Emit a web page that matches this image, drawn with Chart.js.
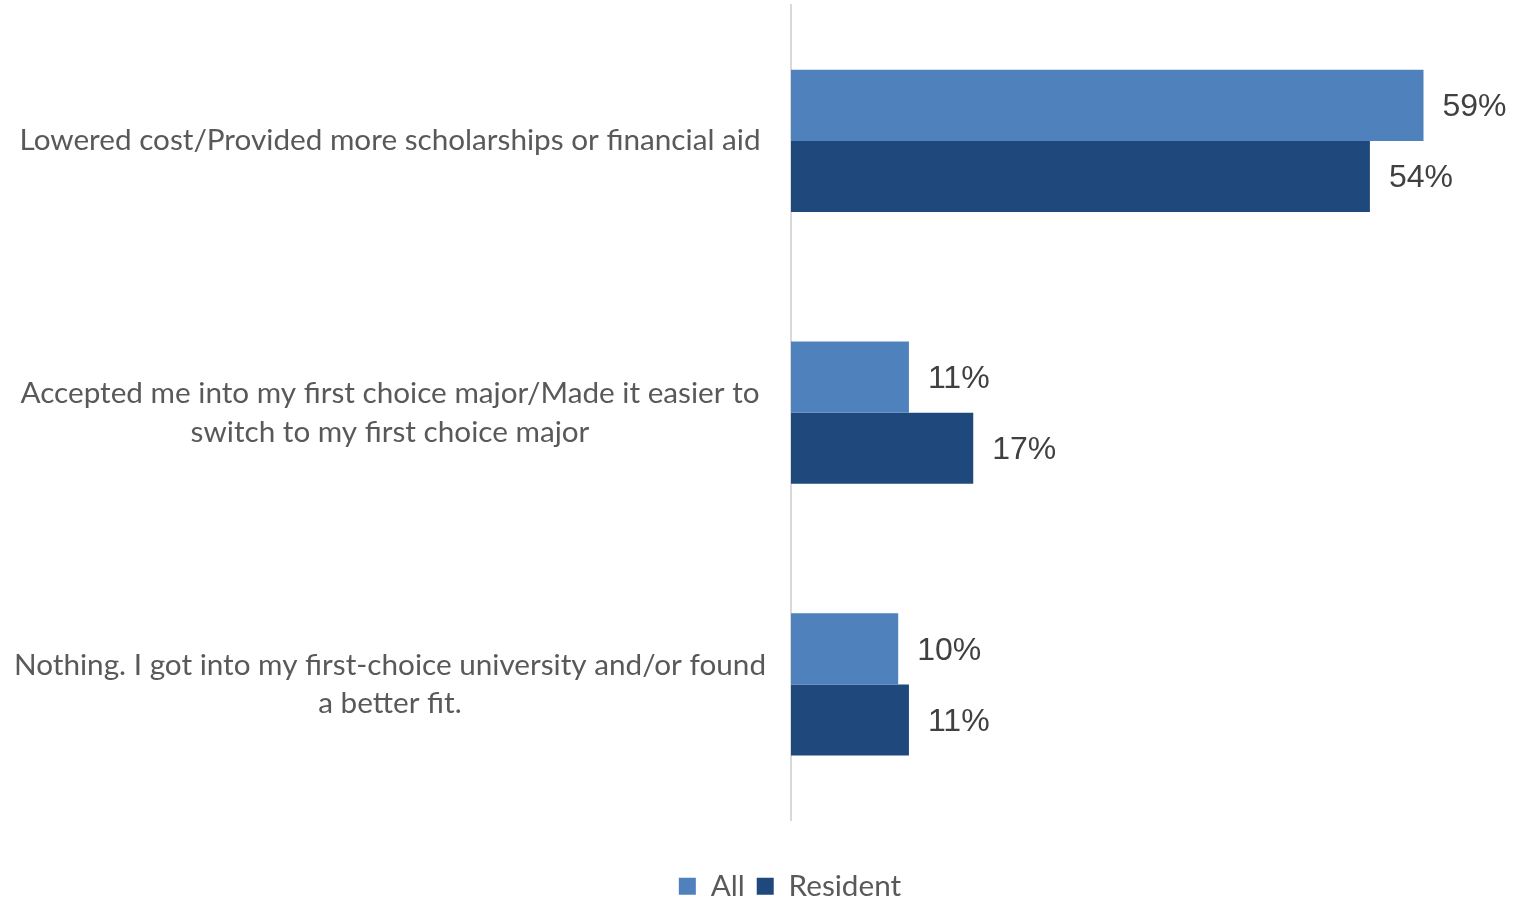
<!DOCTYPE html>
<html>
<head>
<meta charset="utf-8">
<script src="https://cdn.jsdelivr.net/npm/chart.js@4/dist/chart.umd.min.js"></script>
<style>
  html, body { margin: 0; padding: 0; background: #fff; }
  #wrap { width: 1520px; height: 900px; }
</style>
</head>
<body>
<div id="wrap"><canvas id="chart"></canvas></div>
<script>
// categories, one array per wrapped label
const categories = [
  ['Lowered cost/Provided more scholarships or financial aid'],
  ['Accepted me into my first choice major/Made it easier to', 'switch to my first choice major'],
  ['Nothing. I got into my first-choice university and/or found', 'a better fit.']
];
const allValues = [0.59, 0.11, 0.10];
const residentValues = [0.54, 0.17, 0.11];
const seriesNames = ['All', 'Resident'];

const labelFont = 'Lato, "Open Sans", sans-serif';

// draw the % values just right of each bar
const valueLabels = {
  id: 'valueLabels',
  afterDatasetsDraw(chart) {
    const ctx = chart.ctx;
    ctx.save();
    ctx.font = '32px "Liberation Sans", Arial, sans-serif';
    ctx.fillStyle = '#404040';
    ctx.textAlign = 'left';
    ctx.textBaseline = 'middle';
    chart.data.datasets.forEach((ds, i) => {
      chart.getDatasetMeta(i).data.forEach((bar, j) => {
        ctx.fillText(Math.round(ds.data[j] * 100) + '%', bar.x + 19, bar.y + 2);
      });
    });
    ctx.restore();
  }
};

new Chart(document.getElementById('chart'), {
  type: 'bar',
  data: {
    labels: categories,
    datasets: [
      { label: seriesNames[0], data: allValues, backgroundColor: '#4f81bd' },
      { label: seriesNames[1], data: residentValues, backgroundColor: '#1f497d' }
    ]
  },
  options: {
    indexAxis: 'y',
    responsive: true,
    maintainAspectRatio: false,
    animation: false,
    // negative right padding so the legend centres under x≈790 like the original
    layout: { padding: { top: 5, right: -60, left: 0, bottom: -11 } },
    datasets: {
      bar: { barPercentage: 1, categoryPercentage: 0.523 }
    },
    scales: {
      x: {
        min: 0,
        max: 0.68,
        grid: { display: false },
        border: { display: false },
        ticks: { display: false },
        // empty strip between the plot and the legend
        afterFit(scale) { scale.height = 39; }
      },
      y: {
        grid: { display: false },
        border: { display: true, color: '#d9d9d9', width: 2 },
        ticks: {
          crossAlign: 'center',
          padding: 17,
          color: '#595959',
          font: { family: labelFont, size: 29.7, lineHeight: 1.31 }
        },
        afterFit(scale) {
          scale.width = 791;
          scale.paddingTop = 0;
          scale.paddingBottom = 0;
        }
      }
    },
    plugins: {
      tooltip: { enabled: false },
      legend: {
        position: 'bottom',
        labels: {
          color: '#595959',
          font: { family: labelFont, size: 29.7 },
          boxWidth: 17,
          boxHeight: 17,
          padding: 12
        }
      }
    }
  },
  plugins: [valueLabels]
});
</script>
</body>
</html>
